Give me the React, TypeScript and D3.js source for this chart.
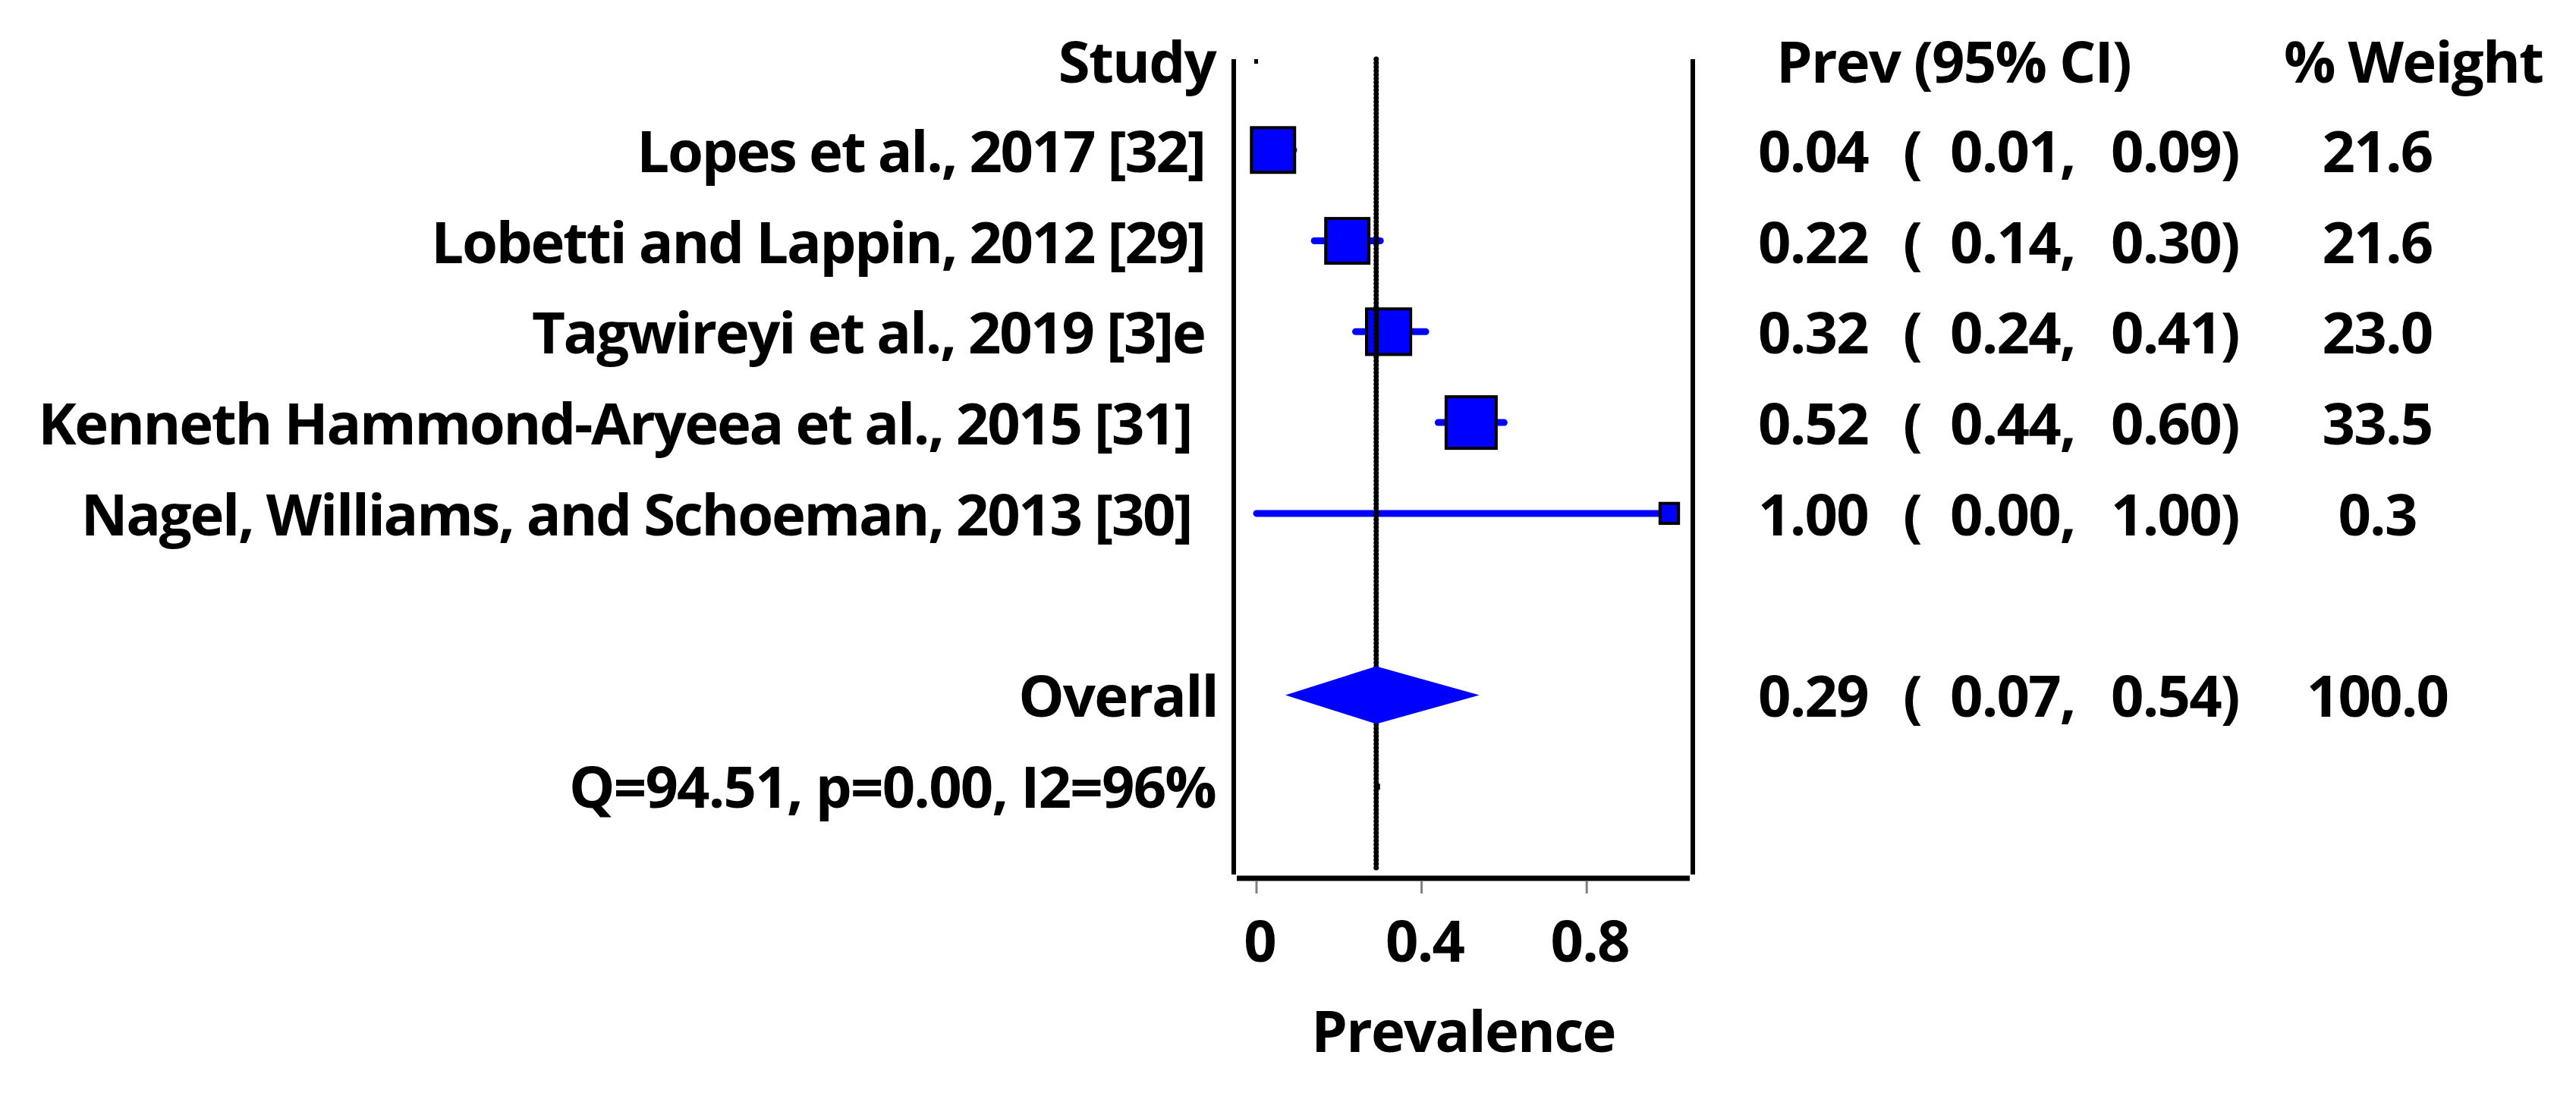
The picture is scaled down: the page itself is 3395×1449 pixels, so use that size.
import * as React from "react";
import { format, scaleLinear, scaleSqrt } from "d3";

// study rows (trailing spaces keep the ragged right edge of the labels)
const studies = [
  "Lopes et al., 2017 [32] ",
  "Lobetti and Lappin, 2012 [29] ",
  "Tagwireyi et al., 2019 [3]e ",
  "Kenneth Hammond-Aryeea et al., 2015 [31]  ",
  "Nagel, Williams, and Schoeman, 2013 [30]  ",
];
const prev = [0.04, 0.22, 0.32, 0.52, 1.0];
const lower = [0.01, 0.14, 0.24, 0.44, 0.0];
const upper = [0.09, 0.3, 0.41, 0.6, 1.0];
const weight = [21.6, 21.6, 23.0, 33.5, 0.3];

const overallEst = [0.29, 0.07, 0.54]; // estimate, lower, upper
const overallWeight = 100.0;
const heterogeneity = "Q=94.51, p=0.00, I2=96%";

const xTicks = [0, 0.4, 0.8];
const headers = ["Study", "Prev (95% CI)", "% Weight"];
const xTitle = "Prevalence";

const W = 3395;
const H = 1449;
const FONT = "'Open Sans', 'Noto Sans', sans-serif";
const BLUE = "#0000ff";

const f2 = format(".2f");
const f1 = format(".1f");

export default function App() {
  const x = scaleLinear().domain([0, 1]).range([1656, 2200]);
  // row index: -1 header, 0..4 studies, 6 overall, 7 heterogeneity
  const y = scaleLinear().domain([-1, 8]).range([78, 1156]);
  const boxSize = scaleSqrt().domain([0, 33.5]).range([20, 66]);

  const frameLeft = 1626;
  const frameRight = 2231;
  const frameTop = y(-1);
  const frameBottom = 1153;
  const axisY = 1158;

  const labelX = 1605;
  const colEst = 2317;
  const colParen = 2508;
  const colLo = 2570;
  const colHi = 2782;
  const colW = 3133;
  const base = 29;

  const textStyle = {
    fontFamily: FONT,
    fontWeight: 700,
    fontSize: 76,
    letterSpacing: -1.8,
    fill: "#000",
  } as React.CSSProperties;

  const valueRow = (est: number, lo: number, hi: number, w: number, row: number, key: string) => (
    <g key={key} style={textStyle}>
      <text x={colEst} y={y(row) + base}>{f2(est)}</text>
      <text x={colParen} y={y(row) + base}>(</text>
      <text x={colLo} y={y(row) + base}>{f2(lo) + ","}</text>
      <text x={colHi} y={y(row) + base}>{f2(hi) + ")"}</text>
      <text x={colW} y={y(row) + base} textAnchor="middle">{f1(w)}</text>
    </g>
  );

  const [oEst, oLo, oHi] = overallEst;
  const dh = 38;

  return (
    <svg
      width={W}
      height={H}
      style={{ position: "absolute", left: 0, top: 0, background: "#fff" }}
    >
      <rect width={W} height={H} fill="#fff" />

      {/* headers */}
      <text x={1602} y={y(-1) + 31} textAnchor="end" style={textStyle}>{headers[0]}</text>
      <text x={2341} y={y(-1) + 31} style={textStyle}>{headers[1]}</text>
      <text x={3010} y={y(-1) + 31} style={textStyle}>{headers[2]}</text>

      {/* study labels */}
      {studies.map((s, i) => (
        <text
          key={s}
          x={labelX}
          y={y(i) + base}
          textAnchor="end"
          style={{ ...textStyle, letterSpacing: -2.3, whiteSpace: "pre" }}
        >
          {s}
        </text>
      ))}
      <text x={labelX} y={y(6) + base} textAnchor="end" style={textStyle}>Overall</text>
      <text x={1602} y={y(7) + base} textAnchor="end" style={textStyle}>{heterogeneity}</text>

      {/* frame */}
      <line x1={frameLeft} x2={frameLeft} y1={frameTop} y2={frameBottom} stroke="#000" strokeWidth={6} />
      <line x1={frameRight} x2={frameRight} y1={frameTop} y2={frameBottom} stroke="#000" strokeWidth={6} />
      <line x1={frameLeft + 4} x2={frameRight - 4} y1={axisY} y2={axisY} stroke="#000" strokeWidth={7} />

      {/* ticks */}
      {xTicks.map((t) => (
        <g key={t}>
          <line x1={x(t)} x2={x(t)} y1={axisY + 4} y2={axisY + 20} stroke="#808080" strokeWidth={3} />
          <text x={x(t) + 4} y={1268} textAnchor="middle" style={textStyle}>{format("~g")(t)}</text>
        </g>
      ))}
      <text x={(frameLeft + frameRight) / 2} y={1387} textAnchor="middle" style={textStyle}>{xTitle}</text>

      {/* confidence intervals */}
      {prev.map((p, i) => (
        <line
          key={"ci" + i}
          x1={x(lower[i])}
          x2={x(upper[i])}
          y1={y(i)}
          y2={y(i)}
          stroke={BLUE}
          strokeWidth={9}
          strokeLinecap="round"
        />
      ))}

      {/* weight boxes */}
      {prev.map((p, i) => {
        const s = boxSize(weight[i]);
        return (
          <rect
            key={"box" + i}
            x={x(p) - s / 2}
            y={y(i) - s / 2 - 1}
            width={s}
            height={s + 2}
            fill={BLUE}
            stroke="#000"
            strokeWidth={4}
          />
        );
      })}

      {/* pooled estimate line */}
      <line
        x1={x(oEst)}
        x2={x(oEst)}
        y1={frameTop}
        y2={frameBottom - 5}
        stroke="#000"
        strokeWidth={7}
        strokeDasharray="0.1 5"
        strokeLinecap="round"
      />
      <rect x={x(0) - 3} y={frameTop} width={5} height={6} fill="#000" />
      <rect x={x(oEst) - 2} y={y(7) - 3} width={7} height={8} fill="#000" />

      {/* pooled diamond */}
      <path
        d={`M${x(oLo)},${y(6)} L${x(oEst)},${y(6) - dh} L${x(oHi)},${y(6)} L${x(oEst)},${y(6) + dh} Z`}
        fill={BLUE}
      />

      {/* value columns */}
      {prev.map((p, i) => valueRow(p, lower[i], upper[i], weight[i], i, "v" + i))}
      {valueRow(oEst, oLo, oHi, overallWeight, 6, "vo")}
    </svg>
  );
}
